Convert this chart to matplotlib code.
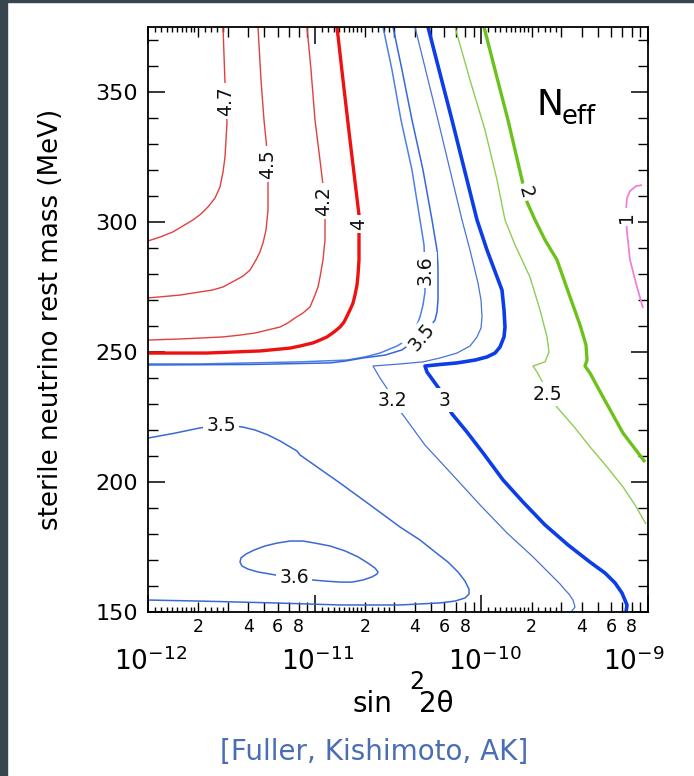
import numpy as np
import matplotlib
matplotlib.use("Agg")
import matplotlib.pyplot as plt
from matplotlib.ticker import FixedLocator, FixedFormatter, MultipleLocator
from matplotlib.transforms import blended_transform_factory, ScaledTranslation
from matplotlib.patches import Rectangle

plt.rcParams["font.family"] = ["DejaVu Sans"]
plt.rcParams["mathtext.fontset"] = "dejavusans"

# ---- N_eff contour lines: log10(sin^2 2theta) vs sterile neutrino mass (MeV) ----
n47_lg = [-11.55, -11.538, -11.532, -11.526, -11.538, -11.55, -11.568, -11.598, -11.64, -11.682,
          -11.73, -11.79, -11.85, -11.928, -12.0]
n47_m = [375.0, 353.5, 346.5, 338.1, 325.0, 319.2, 313.5, 309.2, 305.8, 303.1,
         300.8, 298.5, 296.2, 294.2, 292.7]

n45_lg = [-11.34, -11.322, -11.304, -11.286, -11.28, -11.28, -11.28, -11.292, -11.31, -11.328,
          -11.352, -11.388, -11.43, -11.472, -11.55, -11.616, -11.688, -11.808, -11.928, -12.0]
n45_m = [375.0, 354.6, 339.2, 327.7, 322.3, 316.2, 304.6, 296.9, 291.9, 288.5,
         285.4, 281.5, 279.2, 277.7, 275.0, 273.8, 273.1, 271.9, 271.2, 270.8]

n42_lg = [-11.046, -11.022, -10.998, -10.968, -10.95, -10.944, -10.938, -10.938, -10.95, -10.968,
          -10.98, -10.998, -11.028, -11.07, -11.118, -11.16, -11.208, -11.28, -11.358, -11.448,
          -11.55, -11.808, -12.0]
n42_m = [375.0, 358.5, 339.2, 323.8, 314.2, 308.1, 302.7, 293.1, 285.4, 278.8,
         275.0, 271.9, 267.3, 265.0, 263.1, 261.2, 259.6, 258.5, 257.3, 256.5,
         255.8, 255.0, 254.6]

n40_lg = [-10.866, -10.83, -10.788, -10.752, -10.734, -10.734, -10.734, -10.734, -10.74, -10.746,
          -10.758, -10.77, -10.788, -10.806, -10.824, -10.848, -10.884, -10.926, -10.968, -11.01,
          -11.088, -11.148, -11.328, -11.646, -12.0]
n40_m = [375.0, 354.6, 331.5, 312.3, 302.7, 299.2, 295.0, 285.4, 279.6, 275.8,
         271.9, 268.8, 266.2, 263.8, 261.5, 259.6, 257.7, 255.8, 254.6, 253.5,
         252.3, 251.5, 250.4, 249.6, 249.6]

n36_lg = [-10.59, -10.536, -10.482, -10.416, -10.368, -10.344, -10.338, -10.338, -10.35, -10.368,
          -10.398, -10.446, -10.506, -10.608, -10.698, -10.806, -11.088, -11.388, -11.688, -12.0]
n36_m = [375.0, 358.5, 339.2, 320.0, 300.8, 291.2, 281.5, 273.1, 268.1, 263.5,
         258.5, 254.6, 252.3, 249.6, 248.1, 246.9, 246.2, 245.8, 245.4, 245.4]

n35_lg = [-10.53, -10.476, -10.416, -10.35, -10.296, -10.266, -10.26, -10.26, -10.266, -10.278,
          -10.338, -10.476, -10.578, -10.71, -10.818, -10.908, -11.388, -12.0]
n35_m = [375.0, 358.5, 339.2, 320.0, 300.8, 289.2, 282.7, 270.0, 265.4, 262.3,
         257.3, 250.8, 248.8, 247.7, 246.5, 245.8, 245.2, 245.0]

n32_lg = [-10.398, -10.26, -10.116, -10.068, -10.02, -10.002, -9.996, -10.002, -10.026, -10.068,
          -10.146, -10.248, -10.35, -10.488, -10.65, -10.608, -10.56, -10.536, -10.47, -10.338,
          -10.188, -10.008, -9.846, -9.69, -9.57, -9.528, -9.498, -9.474, -9.45, -9.438, -9.462]
n32_m = [375.0, 339.2, 300.8, 289.2, 276.5, 270.0, 263.5, 259.2, 255.8, 252.3,
         249.6, 247.7, 246.2, 245.4, 244.6, 240.0, 235.4, 231.2, 225.8, 214.2,
         203.8, 191.2, 180.4, 171.2, 163.5, 160.8, 158.5, 156.9, 154.6, 151.9, 150.0]

n30_lg = [-10.32, -10.176, -10.026, -9.966, -9.876, -9.864, -9.858, -9.864, -9.888, -9.918,
          -9.966, -10.038, -10.146, -10.248, -10.338, -10.326, -10.248, -10.224, -10.176, -10.086,
          -9.99, -9.87, -9.75, -9.618, -9.48, -9.348, -9.258, -9.198, -9.156, -9.126, -9.132]
n30_m = [375.0, 339.2, 300.8, 289.2, 273.8, 266.2, 259.6, 255.8, 251.9, 249.6,
         248.1, 246.9, 245.8, 245.2, 244.6, 242.3, 235.4, 231.5, 226.2, 219.2,
         211.2, 200.8, 192.3, 183.5, 175.8, 169.2, 165.0, 161.2, 157.3, 152.7, 150.0]

n35b_lg = [-12.0, -11.838, -11.688, -11.562, -11.436, -11.358, -11.28, -11.208, -11.148, -11.106,
           -11.088, -10.848, -10.668, -10.488, -10.368, -10.278, -10.2, -10.14, -10.098, -10.074,
           -10.074, -10.098, -10.158, -10.248, -10.368, -10.488, -10.848, -11.25, -11.688, -12.0]
n35b_m = [216.9, 218.8, 220.8, 221.9, 221.2, 220.0, 218.1, 215.8, 213.5, 211.9,
          210.4, 199.6, 191.2, 182.7, 177.7, 173.1, 169.2, 165.4, 161.9, 158.8,
          156.9, 155.4, 154.2, 153.5, 153.1, 152.7, 152.7, 153.5, 154.2, 154.6]

n36b_lg = [-11.124, -11.01, -10.938, -10.848, -10.776, -10.71, -10.656, -10.626, -10.62, -10.638,
           -10.68, -10.74, -10.818, -10.908, -10.998, -11.07, -11.148, -11.226, -11.298, -11.364,
           -11.412, -11.442, -11.448, -11.436, -11.4, -11.34, -11.268, -11.196, -11.124]
n36b_m = [163.1, 162.3, 161.9, 161.5, 161.5, 162.3, 163.5, 164.6, 165.4, 166.9,
          168.8, 171.2, 173.5, 175.4, 176.5, 177.3, 177.3, 176.5, 175.4, 173.8,
          172.3, 170.8, 169.2, 167.7, 166.5, 165.4, 164.6, 163.8, 163.1]

n25_lg = [-10.158, -10.068, -9.978, -9.906, -9.858, -9.798, -9.708, -9.648, -9.606, -9.594,
          -9.618, -9.69, -9.666, -9.636, -9.606, -9.546, -9.438, -9.348, -9.246, -9.15,
          -9.078, -9.012]
n25_m = [375.0, 354.6, 335.4, 316.2, 300.8, 291.2, 278.8, 266.2, 255.8, 250.0,
         246.2, 244.6, 242.3, 238.8, 233.8, 228.8, 220.8, 213.5, 205.8, 198.1,
         191.2, 183.8]

n20_lg = [-9.984, -9.918, -9.84, -9.756, -9.738, -9.726, -9.678, -9.618, -9.546, -9.468,
          -9.408, -9.372, -9.366, -9.378, -9.348, -9.27, -9.15, -9.018]
n20_m = [375.0, 358.5, 339.2, 316.2, 311.5, 307.7, 300.8, 293.1, 285.4, 271.2,
         260.4, 252.7, 246.9, 244.6, 241.9, 232.7, 218.8, 207.7]

n10_lg = [-9.036, -9.072, -9.108, -9.126, -9.132, -9.132, -9.126, -9.108, -9.066, -9.03]
n10_m = [314.2, 313.8, 311.9, 309.2, 304.6, 301.9, 296.2, 285.4, 275.0, 266.9]

# contour level, line data, colour, width, label position (log10 s2, mass) and rotation
contours = [
    (4.7, n47_lg, n47_m, "#e0403e", 1.0, (-11.532, 346.5), 90),
    (4.5, n45_lg, n45_m, "#e0403e", 1.0, (-11.28, 322.3), 90),
    (4.2, n42_lg, n42_m, "#e0403e", 1.0, (-10.944, 308.1), 90),
    (4.0, n40_lg, n40_m, "#ee1111", 2.4, (-10.734, 299.2), 90),
    (3.6, n36_lg, n36_m, "#4f7fe6", 1.1, (-10.338, 281.5), 90),
    (3.5, n35_lg, n35_m, "#3567dc", 1.1, (-10.356, 255.8), 50),
    (3.2, n32_lg, n32_m, "#4673d8", 0.9, (-10.536, 231.2), 0),
    (3.0, n30_lg, n30_m, "#0b3ee8", 2.6, (-10.224, 231.5), 0),
    (3.5, n35b_lg, n35b_m, "#3a69d6", 1.1, (-11.562, 221.9), 0),
    (3.6, n36b_lg, n36b_m, "#3a69d6", 1.1, (-11.124, 163.1), 0),
    (2.5, n25_lg, n25_m, "#8fcc55", 1.0, (-9.606, 233.8), 0),
    (2.0, n20_lg, n20_m, "#6cc21a", 2.4, (-9.738, 311.5), -75),
    (1.0, n10_lg, n10_m, "#ee80dd", 1.3, (-9.132, 301.9), 90),
]

y_major = [150, 200, 250, 300, 350]
decades = [-12, -11, -10, -9]
minor_mantissas = [1.1, 1.2, 1.3, 1.4, 1.5, 1.6, 1.7, 1.8, 1.9, 2, 2.2, 2.4, 2.6, 2.8,
                   3, 4, 5, 6, 7, 8, 9]
labelled_mantissas = [2, 4, 6, 8]

W, H = 694, 776
fig = plt.figure(figsize=(W / 100, H / 100), dpi=100)
fig.patch.set_facecolor("white")
fig.add_artist(Rectangle((0, 0), 6.5 / W, 1, transform=fig.transFigure, color="#37454e", zorder=0))
fig.add_artist(Rectangle((0, 1 - 1.5 / H), 1, 1.5 / H, transform=fig.transFigure, color="#37454e", zorder=0))

ax = fig.add_axes([148 / W, 1 - 612 / H, 500 / W, 585 / H])
ax.set_xscale("log")
ax.set_xlim(1e-12, 1e-9)
ax.set_ylim(150, 375)

for lev, lg, m, col, lw, (tx, ty), rot in contours:
    ax.plot(10.0 ** np.array(lg), m, color=col, lw=lw, solid_capstyle="butt",
            solid_joinstyle="round", zorder=2)
    ax.text(10.0 ** tx, ty, f"{lev:g}", rotation=rot, rotation_mode="anchor",
            ha="center", va="center", fontsize=13.5, color="#111111", zorder=3,
            bbox=dict(boxstyle="square,pad=0.15", fc="white", ec="none"))

for s in ax.spines.values():
    s.set_linewidth(1.3)

# x ticks
major_x = [10.0 ** d for d in decades]
minor_x, minor_lab, minor_int = [], [], []
for d in decades[:-1]:
    for mt in minor_mantissas:
        minor_x.append(mt * 10.0 ** d)
        minor_lab.append(f"{mt:g}" if mt in labelled_mantissas else "")
        minor_int.append(float(mt).is_integer())
ax.xaxis.set_major_locator(FixedLocator(major_x))
ax.xaxis.set_major_formatter(FixedFormatter([""] * len(major_x)))
ax.xaxis.set_minor_locator(FixedLocator(minor_x))
ax.xaxis.set_minor_formatter(FixedFormatter(minor_lab))

ax.yaxis.set_major_locator(FixedLocator(y_major))
ax.yaxis.set_minor_locator(MultipleLocator(10))

ax.tick_params(which="both", direction="in", top=True, right=True, colors="black")
ax.tick_params(which="major", length=12, width=1.1)
ax.tick_params(which="minor", length=7, width=1.0)
ax.tick_params(axis="y", which="major", labelsize=16, pad=7)
ax.tick_params(axis="x", which="minor", labelsize=12.5, pad=4)

for t, is_int in zip(ax.xaxis.get_minor_ticks(len(minor_x)), minor_int):
    if not is_int:
        t.tick1line.set_markersize(3.5)
        t.tick2line.set_markersize(3.5)

# decade labels
trans = blended_transform_factory(ax.transData, ax.transAxes)
for d in decades:
    off = ScaledTranslation(3 / 100 if d != -9 else -14 / 100, 0, fig.dpi_scale_trans)
    ax.text(10.0 ** d, -58 / 585, f"$10^{{{d}}}$", transform=trans + off,
            ha="center", va="baseline", fontsize=19)

ax.set_ylabel("sterile neutrino rest mass (MeV)", fontsize=18.8, labelpad=23)

fig.text(353 / W, 1 - 712 / H, "sin", fontsize=20, ha="left", va="baseline")
fig.text(409 / W, 1 - 689 / H, "2", fontsize=17, ha="left", va="baseline")
fig.text(419 / W, 1 - 712 / H, "2θ", fontsize=20, ha="left", va="baseline")

fig.text(537 / W, 1 - 115 / H, "N", fontsize=26, ha="left", va="baseline")
fig.text(562 / W, 1 - 124 / H, "eff", fontsize=18.5, ha="left", va="baseline")

fig.text(374 / W, 1 - 752 / H, "[Fuller, Kishimoto, AK]", fontsize=20,
         color="#4a6db3", ha="center", va="center")

fig.savefig("out.png", dpi=100)
